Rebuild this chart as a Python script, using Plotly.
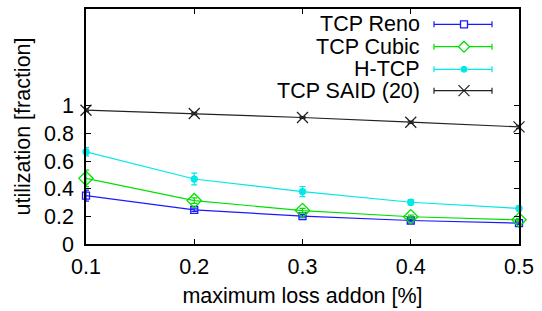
import plotly.graph_objects as go

x_vals = [0.1, 0.2, 0.3, 0.4, 0.5]

reno = [0.350, 0.247, 0.202, 0.170, 0.151]
reno_err = [0.040, 0.012, 0.012, 0.010, 0.010]
cubic = [0.475, 0.314, 0.242, 0.197, 0.175]
cubic_err = [0.060, 0.020, 0.015, 0.012, 0.010]
htcp = [0.667, 0.470, 0.379, 0.302, 0.257]
htcp_err = [0.030, 0.042, 0.037, 0.020, 0.015]
said = [0.968, 0.944, 0.915, 0.881, 0.847]
said_err = [0.010, 0.008, 0.006, 0.008, 0.012]

names = ["TCP Reno", "TCP Cubic", "H-TCP", "TCP SAID (20)"]
colors = ["#1a1aff", "#00e000", "#00e8e8", "#222222"]
symbols = ["square-open", "diamond-open", "circle", "x-thin-open"]
sizes = [7, 11, 6, 11]

y_ticks = [0, 0.2, 0.4, 0.6, 0.8, 1]
y_tick_text = ["0", "0.2", "0.4", "0.6", "0.8", "1"]
x_ticks = [0.1, 0.2, 0.3, 0.4, 0.5]
x_tick_text = ["0.1", "0.2", "0.3", "0.4", "0.5"]

FONT = "Liberation Sans, Arial, Helvetica, sans-serif"
FS = 21.5
W, H = 542, 311
ML, MR, MT, MB = 86, 23, 9, 67

fig = go.Figure()
series = [reno, cubic, htcp, said]
errs = [reno_err, cubic_err, htcp_err, said_err]
for name, ys, es, c, s, sz in zip(names, series, errs, colors, symbols, sizes):
    fig.add_trace(go.Scatter(
        x=x_vals, y=ys, name=name, mode="lines+markers",
        line=dict(color=c, width=1.2),
        marker=dict(symbol=s, size=sz, color=c, line=dict(color=c, width=1.3)),
        error_y=dict(type="data", array=es, visible=True, color=c, thickness=1.2, width=3),
        cliponaxis=False, showlegend=False,
    ))

# custom gnuplot-style key (text left, sample right)
pw = W - ML - MR
ph = H - MT - MB

def px(xp):
    return (xp - ML) / pw

def py(yp):
    return (H - MB - yp) / ph

row_y = [24.3, 46.7, 69.3, 90.7]
text_right = 421
line_l, line_r, mark_x = 434, 492, 464
shapes = []
annotations = []
for name, c, yy, i in zip(names, colors, row_y, range(4)):
    annotations.append(dict(x=px(text_right), y=py(yy), xref="paper", yref="paper",
                            text=name, showarrow=False, xanchor="right", yanchor="middle",
                            borderpad=0,
                            font=dict(family=FONT, size=FS, color="black")))
    shapes.append(dict(type="line", xref="paper", yref="paper", x0=px(line_l), x1=px(line_r),
                       y0=py(yy), y1=py(yy), line=dict(color=c, width=1.2)))
    for ex in (line_l, line_r):
        shapes.append(dict(type="line", xref="paper", yref="paper", x0=px(ex), x1=px(ex),
                           y0=py(yy - 3), y1=py(yy + 3), line=dict(color=c, width=1.2)))
    if i == 0:
        shapes.append(dict(type="rect", xref="paper", yref="paper", x0=px(mark_x - 3.5), x1=px(mark_x + 3.5),
                           y0=py(yy - 3.5), y1=py(yy + 3.5), line=dict(color=c, width=1.3),
                           fillcolor="white"))
    elif i == 1:
        d = 5.5
        path = "M {} {} L {} {} L {} {} L {} {} Z".format(
            px(mark_x), py(yy - d), px(mark_x + d), py(yy), px(mark_x), py(yy + d), px(mark_x - d), py(yy))
        shapes.append(dict(type="path", xref="paper", yref="paper", path=path,
                           line=dict(color=c, width=1.3), fillcolor="white"))
    elif i == 2:
        shapes.append(dict(type="circle", xref="paper", yref="paper", x0=px(mark_x - 3), x1=px(mark_x + 3),
                           y0=py(yy - 3), y1=py(yy + 3), line=dict(color=c, width=1), fillcolor=c))
    else:
        d = 5.5
        shapes.append(dict(type="line", xref="paper", yref="paper", x0=px(mark_x - d), x1=px(mark_x + d),
                           y0=py(yy - d), y1=py(yy + d), line=dict(color=c, width=1.2)))
        shapes.append(dict(type="line", xref="paper", yref="paper", x0=px(mark_x - d), x1=px(mark_x + d),
                           y0=py(yy + d), y1=py(yy - d), line=dict(color=c, width=1.2)))

axis_common = dict(
    showgrid=False, zeroline=False, showline=True, linecolor="black", linewidth=1.5,
    mirror="allticks", ticks="inside", ticklen=5, tickwidth=1, tickcolor="black",
    tickfont=dict(family=FONT, size=FS, color="black"), automargin=False,
)

fig.update_layout(
    width=W, height=H,
    margin=dict(l=ML, r=MR, t=MT, b=MB, pad=0),
    paper_bgcolor="white", plot_bgcolor="white",
    font=dict(family=FONT, size=FS, color="black"),
    shapes=shapes, annotations=annotations,
    xaxis=dict(range=[0.1, 0.5], tickvals=x_ticks, ticktext=x_tick_text,
               title=dict(text="maximum loss addon [%]", font=dict(family=FONT, size=FS), standoff=10),
               ticklabelstandoff=2, **axis_common),
    yaxis=dict(range=[0, 1.7], tickvals=y_ticks, ticktext=y_tick_text,
               title=dict(text="utilization [fraction]", font=dict(family=FONT, size=FS), standoff=8),
               ticklabelstandoff=6, **axis_common),
)

fig.write_html("out.html", config={"displayModeBar": False},
               post_script="document.body.style.margin='0';document.body.style.overflow='hidden';")
